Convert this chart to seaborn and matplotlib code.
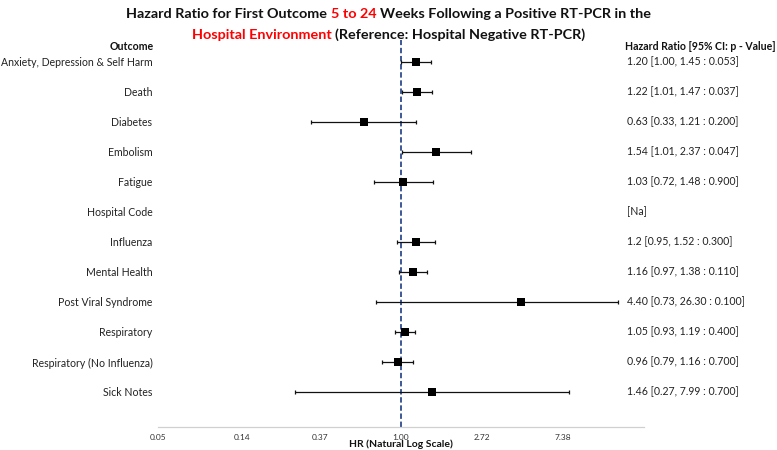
import numpy as np
import pandas as pd
import matplotlib
matplotlib.use("Agg")
import matplotlib.pyplot as plt
import seaborn as sns

# ---------------- data ----------------
outcomes = ["Anxiety, Depression & Self Harm", "Death", "Diabetes", "Embolism",
            "Fatigue", "Hospital Code", "Influenza", "Mental Health",
            "Post Viral Syndrome", "Respiratory", "Respiratory (No Influenza)",
            "Sick Notes"]
hr = [1.20, 1.22, 0.63, 1.54, 1.03, np.nan, 1.20, 1.16, 4.40, 1.05, 0.96, 1.46]
ci_low = [1.00, 1.01, 0.33, 1.01, 0.72, np.nan, 0.95, 0.97, 0.73, 0.93, 0.79, 0.27]
# upper whisker ends as drawn in the picture
ci_high = [1.45, 1.47, 1.21, 2.37, 1.48, np.nan, 1.52, 1.38, 14.6, 1.19, 1.16, 7.99]
hr_labels = ["1.20 [1.00, 1.45 : 0.053]", "1.22 [1.01, 1.47 : 0.037]",
             "0.63 [0.33, 1.21 : 0.200]", "1.54 [1.01, 2.37 : 0.047]",
             "1.03 [0.72, 1.48 : 0.900]", "[Na]", "1.2 [0.95, 1.52 : 0.300]",
             "1.16 [0.97, 1.38 : 0.110]", "4.40 [0.73, 26.30 : 0.100]",
             "1.05 [0.93, 1.19 : 0.400]", "0.96 [0.79, 1.16 : 0.700]",
             "1.46 [0.27, 7.99 : 0.700]"]
tick_values = [0.05, 0.14, 0.37, 1.00, 2.72, 7.38]
tick_labels = ["0.05", "0.14", "0.37", "1.00", "2.72", "7.38"]

df = pd.DataFrame({"outcome": outcomes, "hr": hr, "lo": ci_low, "hi": ci_high,
                   "row": np.arange(len(outcomes))})

# ---------------- figure ----------------
sns.set_theme(style="white")
FONT = ["Lato", "DejaVu Sans"]
plt.rcParams["font.family"] = FONT

W, H = 777, 450
fig = plt.figure(figsize=(W / 100, H / 100), dpi=100)

ax_left, ax_right = 158, 644
ax_top, ax_bottom = 40, 427
ax = fig.add_axes([ax_left / W, 1 - ax_bottom / H, (ax_right - ax_left) / W,
                   (ax_bottom - ax_top) / H])

row0, step = 62, 30
ax.set_xscale("log", base=np.e)
ax.set_xlim(np.exp(-3), np.exp(3))
ax.set_ylim((ax_bottom - row0) / step, (ax_top - row0) / step)

BFS = 7.6

# reference line
ax.axvline(1.0, color="#2E4B8F", ls=(0, (3, 1.5)), lw=1.3, zorder=1)

# whiskers
d = df.dropna()
ax.errorbar(d["hr"], d["row"], xerr=[d["hr"] - d["lo"], d["hi"] - d["hr"]],
            fmt="none", ecolor="#111111", elinewidth=0.9, capsize=1.6,
            capthick=0.9, zorder=2)
sns.scatterplot(data=d, x="hr", y="row", marker="s", s=40, color="black",
                edgecolor="black", linewidth=0, ax=ax, zorder=3, legend=False)

# outcome labels as y tick labels
ax.set_yticks(df["row"])
ax.set_yticklabels(outcomes, fontsize=BFS, color="#222222")
ax.tick_params(axis="y", length=0, pad=4)

ax.set_xticks(tick_values)
ax.set_xticklabels(tick_labels, fontsize=6, color="#333333")
ax.xaxis.set_minor_locator(matplotlib.ticker.NullLocator())
ax.tick_params(axis="x", direction="in", length=3, width=0.8, color="#bfbfbf",
               pad=5)
ax.set_xlabel("HR (Natural Log Scale)", fontsize=7.5, fontweight="bold",
              color="#111111", labelpad=-1)
ax.set_ylabel("")

for s in ["top", "right", "left"]:
    ax.spines[s].set_visible(False)
ax.spines["bottom"].set_color("#d0d0d0")
ax.spines["bottom"].set_linewidth(0.9)

# headers
hdr_y = (47 - row0) / step
ax.text(-4 / (ax_right - ax_left), hdr_y, "Outcome", transform=ax.get_yaxis_transform(),
        ha="right", va="center", fontsize=BFS, fontweight="bold", color="#111111")
rx = (625 - ax_left) / (ax_right - ax_left)
ax.text(rx, hdr_y, "Hazard Ratio [95% CI: p - Value]",
        transform=ax.get_yaxis_transform(), ha="left", va="center", fontsize=BFS,
        fontweight="bold", color="#111111")
for r, lab in zip(df["row"], hr_labels):
    ax.text(rx + 2 / (ax_right - ax_left), r, lab, transform=ax.get_yaxis_transform(),
            ha="left", va="center", fontsize=BFS, color="#222222")

# ---------------- title with coloured parts ----------------
renderer = fig.canvas.get_renderer()


def text_w(s, fs):
    t = fig.text(0, 0, s, fontsize=fs, fontweight="bold")
    w = t.get_window_extent(renderer).width
    t.remove()
    return w


def colored_line(pieces, y_px, fs):
    space = text_w("a a", fs) - text_w("aa", fs)
    widths = [text_w(p, fs) for p, _ in pieces]
    total = sum(widths) + space * (len(pieces) - 1)
    x = (W - total) / 2
    for (p, c), w in zip(pieces, widths):
        fig.text(x / W, 1 - y_px / H, p, fontsize=fs, fontweight="bold", color=c,
                 ha="left", va="center")
        x += w + space


TFS = 10.4
colored_line([("Hazard Ratio for First Outcome", "#111111"), ("5 to 24", "#ff0000"),
              ("Weeks Following a Positive RT-PCR in the", "#111111")], 14, TFS)
colored_line([("Hospital Environment", "#ff0000"),
              ("(Reference: Hospital Negative RT-PCR)", "#111111")], 35, TFS)

fig.savefig("out.png", dpi=100)
